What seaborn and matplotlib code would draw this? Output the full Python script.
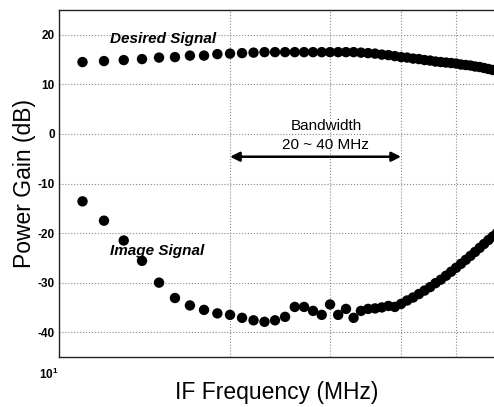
import matplotlib
matplotlib.use("Agg")
import matplotlib.pyplot as plt
import matplotlib.ticker as mticker
import seaborn as sns

# IF frequency (MHz), one point per MHz
freq = list(range(11, 60))

# power gain of the wanted signal (dB)
desired = [14.5, 14.7, 14.9, 15.1, 15.4, 15.5, 15.8, 15.8, 16.1, 16.2,
           16.3, 16.4, 16.5, 16.5, 16.5, 16.5, 16.5, 16.5, 16.5, 16.5,
           16.5, 16.5, 16.5, 16.4, 16.3, 16.2, 16.0, 15.9, 15.7, 15.5,
           15.4, 15.2, 15.1, 14.9, 14.8, 14.6, 14.5, 14.4, 14.3, 14.2,
           14.0, 13.9, 13.8, 13.6, 13.5, 13.3, 13.1, 12.9, 12.7]

# power gain of the image signal (dB)
image = [-13.6, -17.5, -21.5, -25.6, -30.0, -33.1, -34.6, -35.5, -36.2, -36.5,
         -37.1, -37.6, -37.9, -37.6, -36.9, -34.9, -34.9, -35.7, -36.5, -34.4,
         -36.5, -35.3, -37.1, -35.7, -35.3, -35.2, -35.0, -34.7, -34.9, -34.3,
         -33.6, -33.0, -32.3, -31.6, -30.9, -30.1, -29.4, -28.6, -27.8, -27.0,
         -26.2, -25.4, -24.6, -23.8, -23.0, -22.2, -21.4, -20.7, -20.0]

yticks = [-40, -30, -20, -10, 0, 10, 20]

sns.set_style("white")
plt.rcParams["font.family"] = ["Liberation Sans", "DejaVu Sans"]
plt.rcParams["text.color"] = "black"
plt.rcParams["axes.labelcolor"] = "black"
plt.rcParams["xtick.color"] = "black"
plt.rcParams["ytick.color"] = "black"

fig = plt.figure(figsize=(4.94, 4.07), dpi=100)
ax = fig.add_axes([59 / 494, 1 - 357 / 407, 1 - 59 / 494, 347 / 407])

sns.scatterplot(x=freq, y=desired, color="black", s=56, edgecolor="none", ax=ax)
sns.scatterplot(x=freq, y=image, color="black", s=56, edgecolor="none", ax=ax)

ax.set_xscale("log")
ax.set_xlim(10, 58.3)
ax.set_ylim(-45, 25)
ax.set_yticks(yticks)
ax.set_yticklabels([str(v) for v in yticks], fontsize=8.5, fontweight="bold")
ax.xaxis.set_major_locator(mticker.FixedLocator([10]))
ax.xaxis.set_minor_locator(mticker.FixedLocator([20, 30, 40, 50]))
ax.xaxis.set_minor_formatter(mticker.NullFormatter())
ax.tick_params(axis="both", which="both", length=0, pad=3)
ax.tick_params(axis="x", which="major", pad=7)
fig.canvas.draw()
for lab in ax.get_xticklabels():
    lab.set_fontsize(8.5)
    lab.set_fontweight("bold")
    lab.set_ha("right")

ax.grid(True, which="major", axis="y", linestyle=":", color="#888888", linewidth=0.8)
ax.grid(True, which="minor", axis="x", linestyle=":", color="#888888", linewidth=0.8)

for side in ["left", "top", "bottom"]:
    ax.spines[side].set_color("#222222")
    ax.spines[side].set_linewidth(1.0)
ax.spines["right"].set_visible(False)

ax.set_xlabel("IF Frequency (MHz)", fontsize=16.5, va="center")
ax.xaxis.set_label_coords(0.5, -(392 - 357) / 347)
ax.set_ylabel("Power Gain (dB)", fontsize=16.5, labelpad=1)

ax.text(12.3, 19.2, "Desired Signal", fontsize=11, fontweight="bold",
        fontstyle="italic", ha="left", va="center")
ax.text(12.3, -23.6, "Image Signal", fontsize=11, fontweight="bold",
        fontstyle="italic", ha="left", va="center")
ax.text(29.5, 1.6, "Bandwidth", fontsize=11, ha="center", va="center")
ax.text(29.5, -2.2, "20 ~ 40 MHz", fontsize=11, ha="center", va="center")
ax.annotate("", xy=(40, -4.6), xytext=(20, -4.6),
            arrowprops=dict(arrowstyle="<|-|>", color="black", lw=1.8,
                            mutation_scale=14, shrinkA=0, shrinkB=0))

fig.savefig("out.png", dpi=100)
